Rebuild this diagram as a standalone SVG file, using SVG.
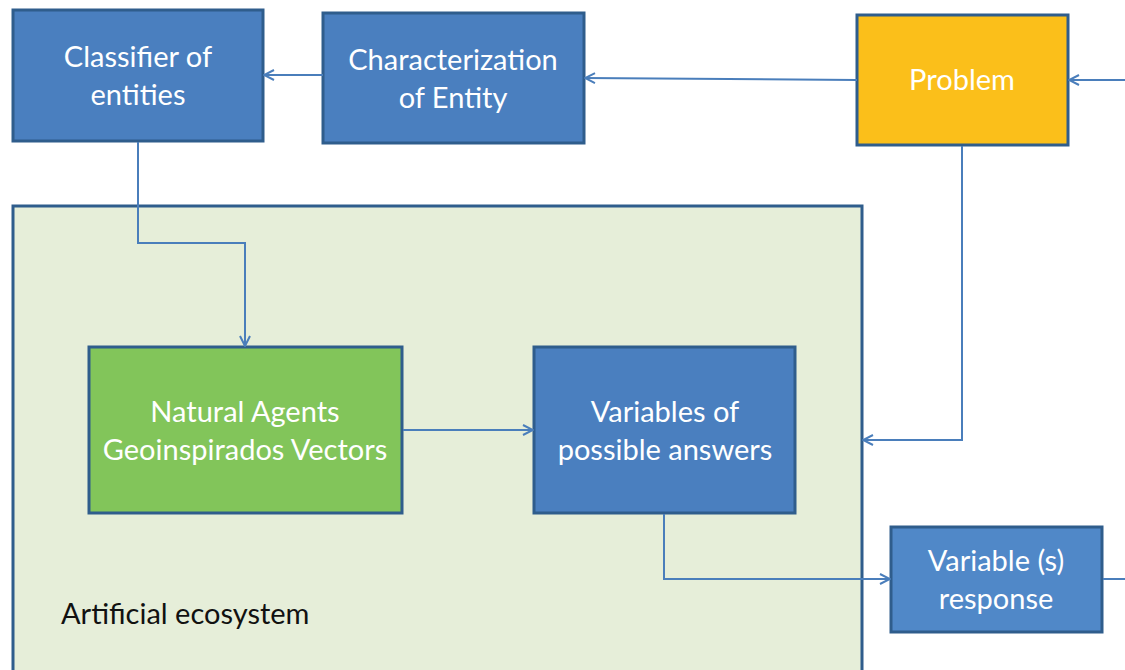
<svg xmlns="http://www.w3.org/2000/svg" width="1125" height="670" viewBox="0 0 1125 670">
<defs>
<marker id="arr" markerWidth="12" markerHeight="12" refX="11" refY="6" orient="auto" markerUnits="userSpaceOnUse">
<path d="M1,1 L11,6 L1,11" fill="none" stroke="#4a7ebb" stroke-width="2"/>
</marker>
<style>
.box{fill:#4a7fbf;stroke:#2f5d8c;stroke-width:3}
.lbl{font-family:Lato,"Open Sans",sans-serif;font-size:29px;fill:#ffffff;text-anchor:middle}
.con{fill:none;stroke:#4a7ebb;stroke-width:2}
</style>
</defs>
<rect width="1125" height="670" fill="#ffffff"/>
<g id="ecosystem">
<rect x="13" y="206" width="849" height="480" fill="#e6eed9" stroke="#2f5d8c" stroke-width="3"/>
<text x="61" y="624" font-family="Lato,'Open Sans',sans-serif" font-size="29" fill="#111111">Artificial ecosystem</text>
</g>
<g id="classifier">
<rect class="box" x="13" y="10" width="250" height="131"/>
<text class="lbl" x="138" y="67">Classifier of</text>
<text class="lbl" x="138" y="105">entities</text>
</g>
<g id="characterization">
<rect class="box" x="323" y="13" width="261" height="130"/>
<text class="lbl" x="453" y="70">Characterization</text>
<text class="lbl" x="453" y="108">of Entity</text>
</g>
<g id="problem">
<rect x="857" y="15" width="211" height="130" fill="#fbbf1a" stroke="#2f5d8c" stroke-width="3"/>
<text class="lbl" x="962" y="90">Problem</text>
</g>
<g id="natural">
<rect x="89" y="347" width="313" height="166" fill="#82c55a" stroke="#2f5d8c" stroke-width="3"/>
<text class="lbl" x="245" y="422">Natural Agents</text>
<text class="lbl" x="245" y="460">Geoinspirados Vectors</text>
</g>
<g id="variables">
<rect class="box" x="534" y="347" width="261" height="166"/>
<text class="lbl" x="665" y="422">Variables of</text>
<text class="lbl" x="665" y="460">possible answers</text>
</g>
<g id="response">
<rect x="891" y="527" width="211" height="105" fill="#5088c8" stroke="#2f5d8c" stroke-width="3"/>
<text class="lbl" x="996" y="571">Variable (s)</text>
<text class="lbl" x="996" y="609">response</text>
</g>
<g id="connectors">
<path class="con" d="M1125,80 L1069,80" marker-end="url(#arr)"/>
<path class="con" d="M857,80 L585,78" marker-end="url(#arr)"/>
<path class="con" d="M323,75 L264,75" marker-end="url(#arr)"/>
<path class="con" d="M138,142 L138,243 L245,243 L245,346" marker-end="url(#arr)"/>
<path class="con" d="M403,430 L533,430" marker-end="url(#arr)"/>
<path class="con" d="M962,146 L962,440 L863,440" marker-end="url(#arr)"/>
<path class="con" d="M664,514 L664,579 L890,579" marker-end="url(#arr)"/>
<path class="con" d="M1103,579 L1125,579"/>
</g>
</svg>
